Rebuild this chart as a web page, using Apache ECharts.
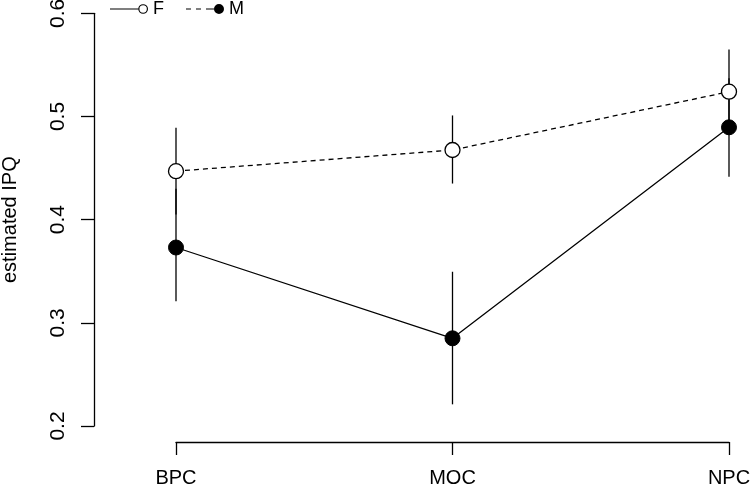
<!DOCTYPE html>
<html>
<head>
<meta charset="utf-8">
<script src="https://cdn.jsdelivr.net/npm/echarts@6/dist/echarts.min.js"></script>
<style>
html,body{margin:0;padding:0;background:#fff;}
#chart{width:750px;height:487px;}
</style>
</head>
<body>
<div id="chart"></div>
<script>
// ---- data ----
var categories = ['BPC', 'MOC', 'NPC'];
var fMean = [0.447, 0.4675, 0.524];
var fLow  = [0.405, 0.435, 0.483];
var fHigh = [0.489, 0.501, 0.565];
var mMean = [0.373, 0.285, 0.4895];
var mLow  = [0.321, 0.221, 0.4415];
var mHigh = [0.43, 0.3495, 0.537];
var yTicks = { min: 0.2, max: 0.6, interval: 0.1 };
var seriesNames = ['F', 'M'];
var yTitle = 'estimated IPQ';

var FONT = '"Liberation Sans", Arial, Helvetica, sans-serif';

function errorBarSeries(low, high) {
  var d = low.map(function (l, i) { return [i, l, high[i]]; });
  return {
    type: 'custom',
    silent: true,
    z: 1,
    data: d,
    renderItem: function (params, api) {
      var p1 = api.coord([api.value(0), api.value(1)]);
      var p2 = api.coord([api.value(0), api.value(2)]);
      return {
        type: 'line',
        shape: { x1: p1[0], y1: p1[1], x2: p2[0], y2: p2[1] },
        style: { stroke: '#000', lineWidth: 1.3 }
      };
    }
  };
}

var fIcon = 'path://M0,4.4 L29,4.4 L29,5.6 L0,5.6 Z M29,5 A5,5 0 1,1 39,5 A5,5 0 1,1 29,5 Z M30.2,5 A3.8,3.8 0 1,0 37.8,5 A3.8,3.8 0 1,0 30.2,5 Z';
var mIcon = 'path://M0,4.4 L5,4.4 L5,5.6 L0,5.6 Z M10,4.4 L15,4.4 L15,5.6 L10,5.6 Z M20,4.4 L28,4.4 L28,5.6 L20,5.6 Z M28,5 A5,5 0 1,1 38,5 A5,5 0 1,1 28,5 Z';

var chart = echarts.init(document.getElementById('chart'), null, { renderer: 'canvas' });
chart.setOption({
  animation: false,
  backgroundColor: '#fff',
  textStyle: { fontFamily: FONT },
  grid: { left: 176, right: 21, top: 13.3, bottom: 61, containLabel: false, outerBoundsMode: 'none' },
  legend: {
    left: 110, top: 0, padding: 0,
    itemWidth: 38, itemHeight: 10, itemGap: 22,
    textStyle: { fontFamily: FONT, fontSize: 18, color: '#000', padding: [2, 0, 0, 0] },
    data: [
      { name: seriesNames[0], icon: fIcon, itemStyle: { color: '#000', borderWidth: 0 } },
      { name: seriesNames[1], icon: mIcon, itemStyle: { color: '#000', borderWidth: 0 } }
    ]
  },
  xAxis: {
    type: 'category',
    data: categories,
    boundaryGap: false,
    offset: 16,
    axisLine: { lineStyle: { color: '#000', width: 1.3 } },
    axisTick: { length: 13, lineStyle: { color: '#000', width: 1.3 } },
    axisLabel: { color: '#000', fontSize: 20, margin: 26, fontFamily: FONT },
    splitLine: { show: false }
  },
  yAxis: {
    type: 'value',
    min: yTicks.min, max: yTicks.max, interval: yTicks.interval,
    offset: 82,
    name: yTitle,
    nameLocation: 'middle',
    nameGap: 74,
    nameTextStyle: { color: '#000', fontSize: 20, fontFamily: FONT },
    axisLine: { show: true, lineStyle: { color: '#000', width: 1.3 } },
    axisTick: { show: true, length: 13, lineStyle: { color: '#000', width: 1.3 } },
    axisLabel: { color: '#000', fontSize: 21, rotate: 90, margin: 25, fontFamily: FONT,
      formatter: function (v) { return v.toFixed(1); } },
    splitLine: { show: false }
  },
  series: [
    errorBarSeries(fLow, fHigh),
    errorBarSeries(mLow, mHigh),
    {
      name: seriesNames[0], type: 'line', data: fMean, z: 3,
      symbol: 'circle', symbolSize: 15,
      lineStyle: { color: '#000', width: 1.3, type: [5, 4] },
      itemStyle: { color: '#fff', borderColor: '#000', borderWidth: 1.3 }
    },
    {
      name: seriesNames[1], type: 'line', data: mMean, z: 3,
      symbol: 'circle', symbolSize: 15,
      lineStyle: { color: '#000', width: 1.3, type: 'solid' },
      itemStyle: { color: '#000', borderColor: '#000', borderWidth: 1 }
    }
  ]
});
</script>
</body>
</html>
